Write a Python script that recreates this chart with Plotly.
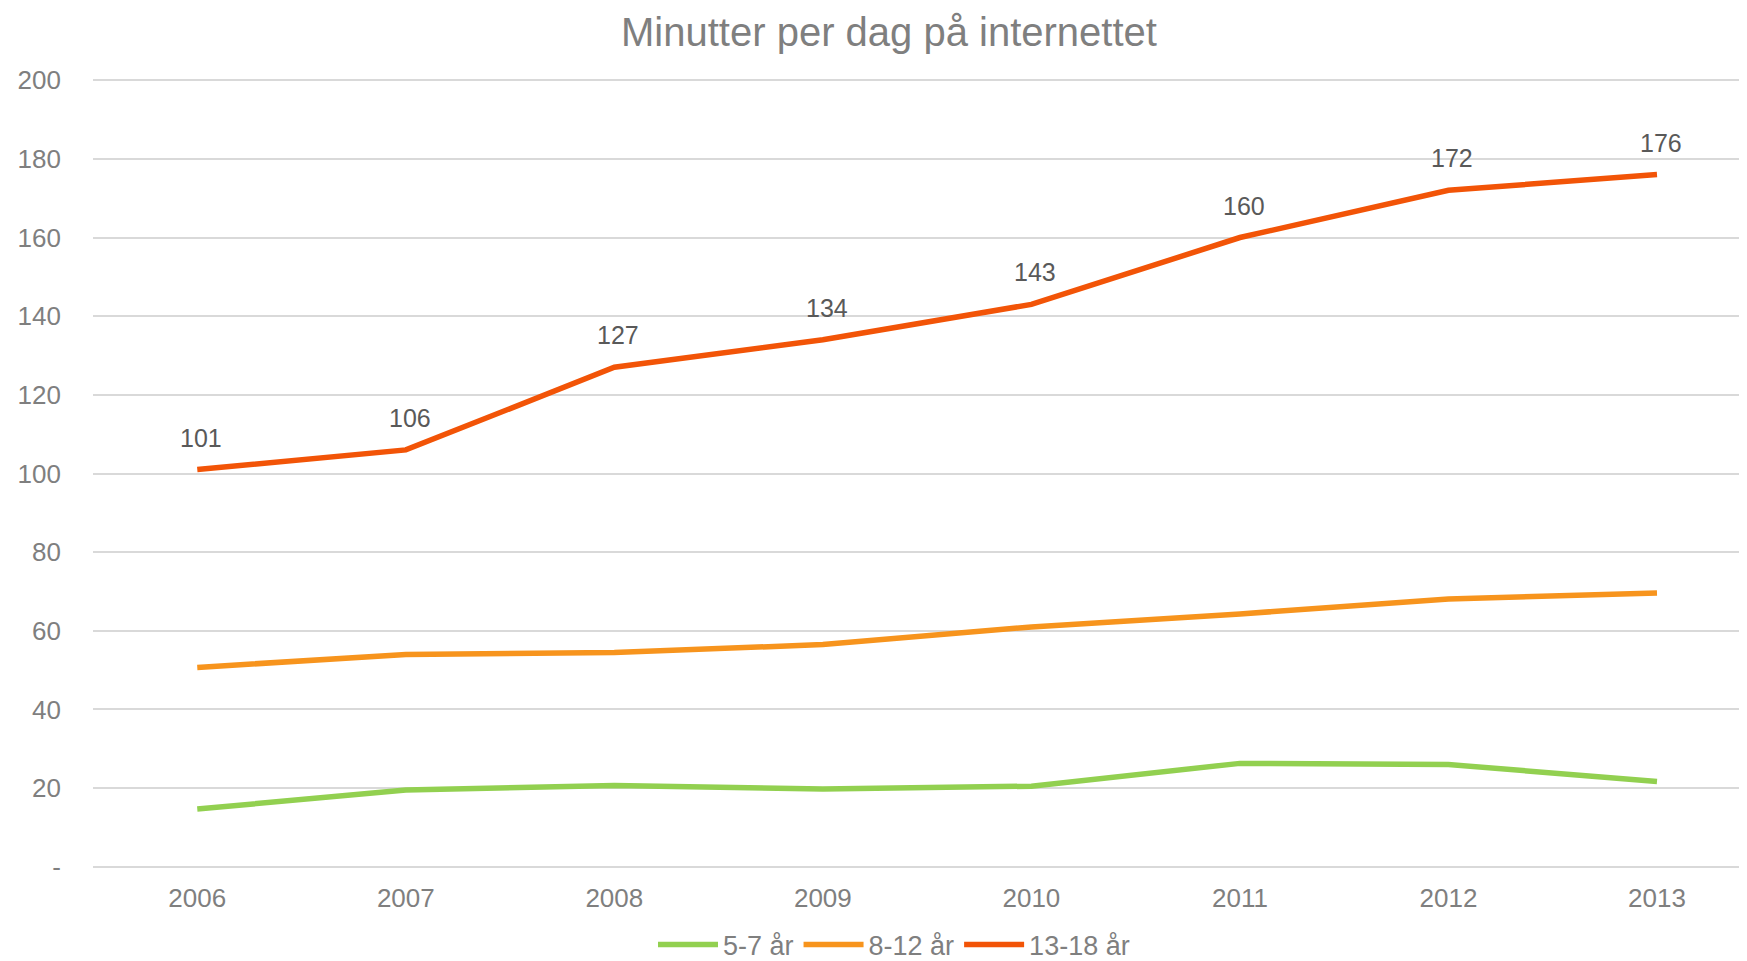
import plotly.graph_objects as go

years = ["2006", "2007", "2008", "2009", "2010", "2011", "2012", "2013"]
s_5_7 = [14.7, 19.5, 20.7, 19.8, 20.5, 26.3, 26.0, 21.7]
s_8_12 = [50.7, 54.0, 54.5, 56.5, 61.0, 64.3, 68.1, 69.6]
s_13_18 = [101, 106, 127, 134, 143, 160, 172, 176]
names = ["5-7 år", "8-12 år", "13-18 år"]
colors = ["#92D050", "#F7941D", "#F25407"]
yticks = [0, 20, 40, 60, 80, 100, 120, 140, 160, 180, 200]
yticktext = ["-"] + [str(v) for v in yticks[1:]]

FONT = "Liberation Sans"
W, H = 1747, 961
L, R, T, B = 85, 0, 71, 101

fig = go.Figure()
for name, vals, col in zip(names, [s_5_7, s_8_12, s_13_18], colors):
    fig.add_trace(go.Scatter(x=years, y=vals, mode="lines", name=name,
                             line=dict(color=col, width=5.5)))

for i, v in enumerate(s_13_18):
    fig.add_annotation(x=i, y=v, xref="x", yref="y", text=str(v), showarrow=False,
                       yshift=32, xshift=4,
                       font=dict(family=FONT, size=25, color="#595959"))

fig.update_layout(
    width=W, height=H,
    paper_bgcolor="white", plot_bgcolor="white",
    margin=dict(l=L, r=R, t=T, b=B),
    title=dict(text="Minutter per dag på internettet", x=881 / W, xanchor="center",
               y=1 - 24 / H, yanchor="middle",
               font=dict(family=FONT, size=40, color="#7F7F7F"), automargin=False),
    showlegend=True,
    legend=dict(orientation="h", xref="container", yref="container",
                x=886 / W, xanchor="center", y=1 - 937 / H, yanchor="middle",
                font=dict(family=FONT, size=27, color="#7F7F7F"),
                itemwidth=60, tracegroupgap=0),
    font=dict(family=FONT, color="#7F7F7F"),
)
fig.update_xaxes(type="category", range=[-0.5, 7.47], showgrid=False, showline=False,
                 zeroline=False, ticks="", ticklabelstandoff=12, automargin=False,
                 tickfont=dict(family=FONT, size=26, color="#7F7F7F"))
fig.update_yaxes(range=[-0.3, 200.3], tickvals=yticks, ticktext=yticktext, showgrid=True,
                 gridcolor="#D9D9D9", gridwidth=1.5, zeroline=False, showline=False,
                 ticks="", ticklabelstandoff=31, automargin=False,
                 tickfont=dict(family=FONT, size=26, color="#7F7F7F"))

fig.write_html("out.html")
